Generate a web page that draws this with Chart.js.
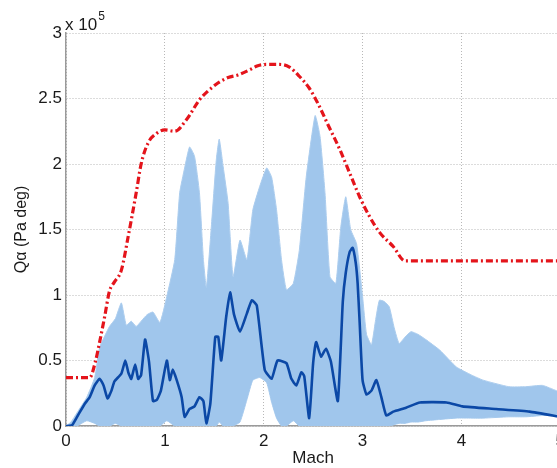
<!DOCTYPE html>
<html>
<head>
<meta charset="utf-8">
<script src="https://cdn.jsdelivr.net/npm/chart.js"></script>
<style>
  html, body { margin: 0; padding: 0; background: #fff; }
  #wrap { width: 557px; height: 468px; overflow: hidden; }
</style>
</head>
<body>
<div id="wrap"><canvas id="qChart" width="570" height="468"></canvas></div>
<script>
// values in units of 1e5 Pa deg
var envMach = [0, 0.24, 0.30, 0.34, 0.39, 0.44, 0.49, 0.56, 0.63, 0.71, 0.76, 0.83, 0.91, 1.00, 1.10, 1.22, 1.35, 1.44, 1.54, 1.64, 1.74, 1.86, 1.94, 2.03, 2.16, 2.26, 2.36, 2.46, 2.55, 2.65, 2.77, 2.87, 2.97, 3.07, 3.17, 3.31, 3.43, 5.00];
var envQ = [0.37, 0.37, 0.50, 0.64, 0.83, 1.03, 1.10, 1.19, 1.45, 1.78, 2.00, 2.16, 2.23, 2.26, 2.25, 2.34, 2.49, 2.56, 2.62, 2.66, 2.68, 2.72, 2.75, 2.76, 2.76, 2.74, 2.67, 2.58, 2.46, 2.30, 2.11, 1.93, 1.75, 1.60, 1.48, 1.37, 1.26, 1.26];

var meanMach = [0, 0.06, 0.12, 0.19, 0.24, 0.29, 0.34, 0.38, 0.42, 0.46, 0.49, 0.56, 0.60, 0.63, 0.66, 0.70, 0.73, 0.76, 0.80, 0.84, 0.88, 0.92, 0.96, 1.02, 1.05, 1.08, 1.12, 1.17, 1.20, 1.25, 1.30, 1.35, 1.39, 1.42, 1.46, 1.51, 1.54, 1.57, 1.62, 1.66, 1.70, 1.76, 1.83, 1.88, 1.93, 2.01, 2.08, 2.14, 2.23, 2.28, 2.33, 2.38, 2.41, 2.46, 2.50, 2.53, 2.58, 2.63, 2.68, 2.75, 2.80, 2.83, 2.87, 2.90, 2.93, 2.95, 2.97, 3.00, 3.04, 3.09, 3.14, 3.19, 3.24, 3.31, 3.44, 3.58, 3.85, 4.01, 4.35, 4.69, 5.00];
var meanQ = [0, 0.005, 0.08, 0.17, 0.22, 0.31, 0.36, 0.31, 0.21, 0.27, 0.34, 0.40, 0.50, 0.41, 0.36, 0.47, 0.36, 0.39, 0.66, 0.49, 0.19, 0.20, 0.27, 0.50, 0.35, 0.43, 0.35, 0.22, 0.07, 0.13, 0.15, 0.22, 0.19, 0.02, 0.17, 0.68, 0.68, 0.50, 0.83, 1.02, 0.85, 0.72, 0.86, 0.96, 0.92, 0.43, 0.36, 0.50, 0.48, 0.36, 0.31, 0.41, 0.38, 0.06, 0.48, 0.64, 0.53, 0.59, 0.49, 0.19, 0.95, 1.17, 1.33, 1.36, 1.25, 1.09, 0.80, 0.35, 0.24, 0.27, 0.35, 0.22, 0.08, 0.11, 0.14, 0.18, 0.18, 0.15, 0.13, 0.11, 0.07];

var cloudMach = [0, 0.05, 0.11, 0.21, 0.29, 0.34, 0.40, 0.44, 0.50, 0.56, 0.61, 0.66, 0.71, 0.76, 0.82, 0.88, 0.95, 1.02, 1.10, 1.15, 1.20, 1.25, 1.30, 1.35, 1.39, 1.42, 1.47, 1.52, 1.55, 1.59, 1.64, 1.69, 1.76, 1.83, 1.89, 1.96, 2.03, 2.08, 2.13, 2.18, 2.23, 2.30, 2.36, 2.43, 2.52, 2.57, 2.62, 2.67, 2.73, 2.78, 2.83, 2.88, 2.94, 3.00, 3.04, 3.09, 3.13, 3.17, 3.22, 3.27, 3.32, 3.37, 3.43, 3.49, 3.56, 3.64, 3.78, 3.95, 4.10, 4.22, 4.48, 4.65, 4.82, 4.96, 5.00];
var cloudHigh = [0, 0.03, 0.10, 0.22, 0.37, 0.60, 0.70, 0.76, 0.82, 0.94, 0.77, 0.80, 0.76, 0.80, 0.85, 0.87, 0.79, 0.99, 1.27, 1.78, 1.97, 2.13, 2.06, 1.78, 1.27, 1.06, 1.52, 2.03, 2.19, 1.98, 1.70, 1.14, 1.42, 1.27, 1.65, 1.83, 1.97, 1.90, 1.65, 1.27, 1.04, 1.09, 1.34, 1.90, 2.37, 2.21, 1.78, 1.14, 1.09, 1.52, 1.75, 1.50, 1.39, 0.99, 0.70, 0.62, 0.80, 0.96, 0.95, 0.91, 0.75, 0.63, 0.68, 0.72, 0.70, 0.66, 0.58, 0.45, 0.39, 0.35, 0.30, 0.30, 0.31, 0.27, 0.26];
var cloudLow = [0, 0, 0, 0.04, 0.02, 0, 0, 0, 0.02, 0, 0, 0, 0, 0, 0, 0, 0, 0.04, 0, 0, 0, 0, 0, 0, 0, 0, 0, 0, 0.03, 0, 0, 0, 0.03, 0.20, 0.35, 0.37, 0.33, 0.18, 0.06, 0, 0, 0.04, 0, 0, 0, 0, 0, 0, 0, 0, 0, 0, 0, 0, 0, 0, 0, 0, 0, 0, 0.01, 0.02, 0.02, 0.03, 0.03, 0.04, 0.05, 0.06, 0.06, 0.06, 0.07, 0.07, 0.08, 0.08, 0.08];

var xTickLabels = ['0', '1', '2', '3', '4', '5'];
var yTickLabels = ['0', '0.5', '1', '1.5', '2', '2.5', '3'];

function pts(xs, ys) {
  return xs.map(function (x, i) { return { x: x, y: ys[i] }; });
}

var textColor = '#1a1a1a';
var fontName = '"Liberation Sans", Arial, sans-serif';

var multiplierLabel = {
  id: 'multiplierLabel',
  afterDraw: function (chart) {
    var ctx = chart.ctx;
    ctx.save();
    ctx.fillStyle = textColor;
    ctx.textBaseline = 'alphabetic';
    ctx.textAlign = 'left';
    ctx.font = '17px ' + fontName;
    ctx.fillText('x 10', 65, 30);
    var w = ctx.measureText('x 10').width;
    ctx.font = '12px ' + fontName;
    ctx.fillText('5', 65 + w + 1, 20);
    ctx.restore();
  }
};

new Chart('qChart', {
  type: 'line',
  data: {
    datasets: [
      {
        label: 'mean',
        data: pts(meanMach, meanQ),
        borderColor: '#0b48a6',
        borderWidth: 2.6,
        pointRadius: 0,
        tension: 0.15,
        fill: false
      },
      {
        label: 'envelope',
        data: pts(envMach, envQ),
        borderColor: '#e4141b',
        borderWidth: 3.2,
        borderDash: [7, 3, 2, 3],
        pointRadius: 0,
        cubicInterpolationMode: 'monotone',
        fill: false
      },
      {
        label: 'runs high',
        data: pts(cloudMach, cloudHigh),
        borderColor: 'rgba(172,205,238,1)',
        borderWidth: 1,
        backgroundColor: 'rgb(160,198,236)',
        pointRadius: 0,
        tension: 0.15,
        fill: '+1'
      },
      {
        label: 'runs low',
        data: pts(cloudMach, cloudLow),
        borderColor: 'rgba(172,205,238,1)',
        borderWidth: 1,
        pointRadius: 0,
        tension: 0.15,
        fill: false
      }
    ]
  },
  options: {
    responsive: false,
    animation: false,
    devicePixelRatio: 1,
    layout: { padding: { top: 33, right: 8, left: 0, bottom: 0 } },
    plugins: {
      legend: { display: false },
      tooltip: { enabled: false }
    },
    scales: {
      x: {
        type: 'linear',
        min: 0,
        max: 5,
        afterFit: function (s) { s.height = 42; },
        ticks: {
          stepSize: 1,
          padding: 5,
          color: textColor,
          font: { family: fontName, size: 17 },
          maxRotation: 0,
          callback: function (v) { return xTickLabels[Math.round(v)]; }
        },
        grid: { color: '#b8b8b8', lineWidth: 1, drawTicks: false },
        border: { display: true, color: '#9a9a9a', width: 1.5, dash: [1, 2] },
        title: {
          display: true,
          text: 'Mach',
          color: textColor,
          font: { family: fontName, size: 17, lineHeight: 1.1 },
          padding: { top: 0, bottom: 0 }
        }
      },
      y: {
        min: 0,
        max: 3,
        afterFit: function (s) { s.width = 66; },
        ticks: {
          stepSize: 0.5,
          padding: 4,
          color: textColor,
          font: { family: fontName, size: 17 },
          callback: function (v) { return yTickLabels[Math.round(v * 2)]; }
        },
        grid: { color: '#b8b8b8', lineWidth: 1, drawTicks: false },
        border: { display: true, color: '#9a9a9a', width: 1.5, dash: [1, 2] },
        title: {
          display: true,
          text: 'Qα (Pa deg)',
          color: textColor,
          font: { family: fontName, size: 16, lineHeight: 1.2 },
          padding: { top: 12, bottom: 0 }
        }
      }
    }
  },
  plugins: [multiplierLabel]
});
</script>
</body>
</html>
